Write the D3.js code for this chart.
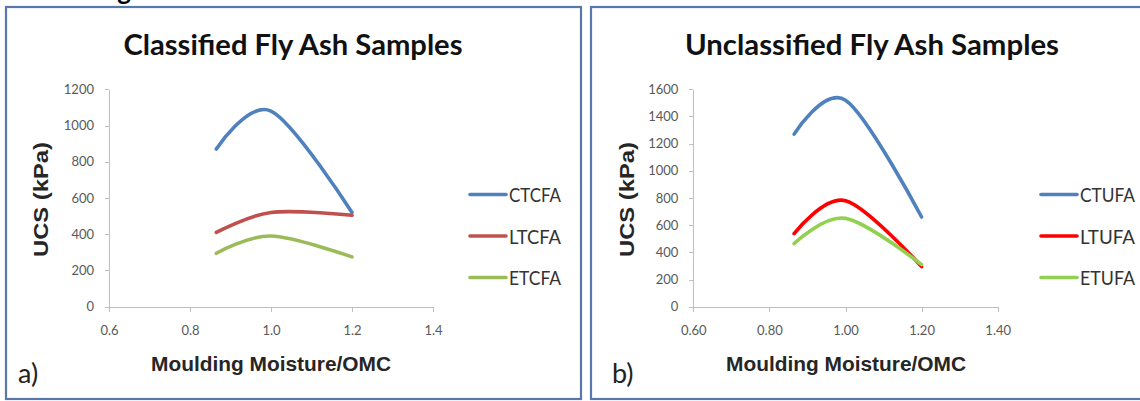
<!DOCTYPE html>
<html>
<head>
<meta charset="utf-8">
<script src="https://cdnjs.cloudflare.com/ajax/libs/d3/7.8.5/d3.min.js"></script>
<style>
  html, body { margin: 0; padding: 0; background: #fff; }
  svg { display: block; }
  .axis path, .axis line { stroke: #bfbfbf; shape-rendering: crispEdges; }
  .axis text { font-family: Lato, "Open Sans", sans-serif; font-size: 13px; fill: #595959; }
</style>
</head>
<body>
<svg id="chart" width="1140" height="401"></svg>
<script>
// moulding moisture / OMC at which the samples were tested
const moistureRatio = [0.865, 1.0, 1.2];

// classified fly ash, UCS in kPa
const classifiedNames = ['CTCFA', 'LTCFA', 'ETCFA'];
const ctcfa = [870, 1080, 520];
const ltcfa = [410, 520, 505];
const etcfa = [295, 390, 275];

// unclassified fly ash, UCS in kPa
const unclassifiedNames = ['CTUFA', 'LTUFA', 'ETUFA'];
const ctufa = [1270, 1520, 660];
const ltufa = [538, 780, 295];
const etufa = [465, 650, 310];

const xTicks = [0.6, 0.8, 1.0, 1.2, 1.4];
const classifiedYTicks = [0, 200, 400, 600, 800, 1000, 1200];
const unclassifiedYTicks = [0, 200, 400, 600, 800, 1000, 1200, 1400, 1600];

const panels = [
    {
        title: 'Classified Fly Ash Samples',
        tag: 'a)',
        names: classifiedNames,
        series: [ctcfa, ltcfa, etcfa],
        colors: ['#4f81bd', '#c0504d', '#9bbb59'],
        yTicks: classifiedYTicks,
        xFormat: d3.format('.1f'),
        box: { x: 6, y: 7, w: 575, h: 392 },
        plot: { left: 109, right: 433, top: 89.3, bottom: 306.7 },
        titleX: 293, titleW: 339,
        xTitleX: 271,
        yTitleX: 47.5,
        legendX: 470, legendW: 52,
        tagX: 18
    },
    {
        title: 'Unclassified Fly Ash Samples',
        tag: 'b)',
        names: unclassifiedNames,
        series: [ctufa, ltufa, etufa],
        colors: ['#4f81bd', '#ff0000', '#92d050'],
        yTicks: unclassifiedYTicks,
        xFormat: d3.format('.2f'),
        box: { x: 591, y: 7, w: 600, h: 392 },
        plot: { left: 693.3, right: 997.7, top: 89.3, bottom: 306.7 },
        titleX: 872, titleW: 374,
        xTitleX: 846,
        yTitleX: 634,
        legendX: 1041, legendW: 55,
        tagX: 612
    }
];

const svg = d3.select('#chart');

// what is left of the figure caption above the panels
svg.append('text')
    .attr('x', 96)
    .attr('y', 0)
    .attr('font-family', 'Lato, sans-serif')
    .attr('font-weight', 700)
    .attr('font-size', 26)
    .attr('fill', '#000')
    .text('Figure');

const legendRows = [194.5, 236, 277.5];

function drawPanel(p) {
    const g = svg.append('g');

    g.append('rect')
        .attr('x', p.box.x)
        .attr('y', p.box.y)
        .attr('width', p.box.w)
        .attr('height', p.box.h)
        .attr('fill', '#fff')
        .attr('stroke', '#5877aa')
        .attr('stroke-width', 2.2);

    const x = d3.scaleLinear()
        .domain([0.6, 1.4])
        .range([p.plot.left, p.plot.right]);

    const y = d3.scaleLinear()
        .domain([0, d3.max(p.yTicks)])
        .range([p.plot.bottom, p.plot.top]);

    g.append('g')
        .attr('class', 'axis axis_type_y')
        .attr('transform', `translate(${p.plot.left},0)`)
        .call(d3.axisLeft(y).tickValues(p.yTicks).tickFormat(d3.format('d'))
            .tickSize(4).tickSizeOuter(0).tickPadding(11));

    g.append('g')
        .attr('class', 'axis axis_type_x')
        .attr('transform', `translate(0,${p.plot.bottom})`)
        .call(d3.axisBottom(x).tickValues(xTicks).tickFormat(p.xFormat)
            .tickSize(5).tickSizeOuter(0).tickPadding(14));

    const line = d3.line()
        .x(d => x(d[0]))
        .y(d => y(d[1]))
        .curve(d3.curveCardinal.tension(0));

    p.series.forEach((values, i) => {
        g.append('path')
            .datum(moistureRatio.map((m, j) => [m, values[j]]))
            .attr('fill', 'none')
            .attr('stroke', p.colors[i])
            .attr('stroke-width', 3.6)
            .attr('stroke-linecap', 'round')
            .attr('stroke-linejoin', 'round')
            .attr('d', line);
    });

    // legend
    p.names.forEach((name, i) => {
        const ly = legendRows[i];
        g.append('line')
            .attr('x1', p.legendX)
            .attr('x2', p.legendX + 36)
            .attr('y1', ly)
            .attr('y2', ly)
            .attr('stroke', p.colors[i])
            .attr('stroke-width', 3.6)
            .attr('stroke-linecap', 'round');
        g.append('text')
            .attr('x', p.legendX + 39)
            .attr('y', ly + 7.5)
            .attr('font-family', 'Lato, sans-serif')
            .attr('font-size', 19)
            .attr('fill', '#333')
            .attr('textLength', p.legendW)
            .attr('lengthAdjust', 'spacingAndGlyphs')
            .text(name);
    });

    g.append('text')
        .attr('x', p.titleX - p.titleW / 2)
        .attr('y', 55)
        .attr('font-family', 'Lato, sans-serif')
        .attr('font-weight', 700)
        .attr('font-size', 28)
        .attr('fill', '#111')
        .attr('textLength', p.titleW)
        .attr('lengthAdjust', 'spacingAndGlyphs')
        .text(p.title);

    g.append('text')
        .attr('x', p.xTitleX - 120)
        .attr('y', 371)
        .attr('font-family', '"Liberation Sans", Arial, sans-serif')
        .attr('font-weight', 700)
        .attr('font-size', 21)
        .attr('fill', '#262626')
        .attr('textLength', 240)
        .attr('lengthAdjust', 'spacingAndGlyphs')
        .text('Moulding Moisture/OMC');

    g.append('text')
        .attr('transform', `translate(${p.yTitleX},${199.5 + 57.5}) rotate(-90)`)
        .attr('font-family', '"Liberation Sans", Arial, sans-serif')
        .attr('font-weight', 700)
        .attr('font-size', 21)
        .attr('fill', '#262626')
        .attr('textLength', 115)
        .attr('lengthAdjust', 'spacingAndGlyphs')
        .text('UCS (kPa)');

    g.append('text')
        .attr('x', p.tagX)
        .attr('y', 383)
        .attr('font-family', 'Lato, sans-serif')
        .attr('font-size', 27)
        .attr('fill', '#222')
        .text(p.tag);
}

panels.forEach(drawPanel);
</script>
</body>
</html>
